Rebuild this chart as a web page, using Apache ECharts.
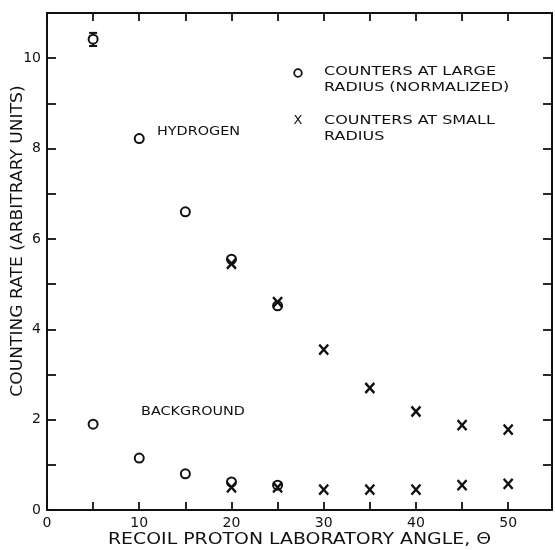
<!DOCTYPE html>
<html>
<head>
<meta charset="utf-8">
<script src="https://cdn.jsdelivr.net/npm/echarts@6/dist/echarts.min.js"></script>
<style>
  html, body { margin: 0; padding: 0; background: #fff; }
  #chart { width: 555px; height: 550px; }
</style>
</head>
<body>
<div id="chart"></div>
<script>
// angles (deg) and counting rates
const hydLargeAngle = [5, 10, 15, 20, 25];
const hydLargeRate = [10.42, 8.22, 6.6, 5.55, 4.52];
const hydSmallAngle = [20, 25, 30, 35, 40, 45, 50];
const hydSmallRate = [5.45, 4.6, 3.55, 2.7, 2.18, 1.88, 1.78];
const bgLargeAngle = [5, 10, 15, 20, 25];
const bgLargeRate = [1.9, 1.15, 0.8, 0.62, 0.55];
const bgSmallAngle = [20, 25, 30, 35, 40, 45, 50];
const bgSmallRate = [0.5, 0.5, 0.45, 0.45, 0.45, 0.55, 0.58];
// error bar on the first point
const errAngle = [5];
const errLow = [10.27];
const errHigh = [10.56];

const xTickLabels = ['0', '10', '20', '30', '40', '50'];
const yTickLabels = ['0', '2', '4', '6', '8', '10'];

const ink = '#111';
const font = 'DejaVu Sans';

function pairs(xs, ys) {
  return xs.map((x, i) => [x, ys[i]]);
}

const crossPath = 'path://M0,0L10,11M10,0L0,11';

const circleStyle = { color: '#fff', borderColor: ink, borderWidth: 2, opacity: 1 };
const crossStyle = { color: 'none', borderColor: ink, borderWidth: 2.4, opacity: 1 };

const chart = echarts.init(document.getElementById('chart'));

const baseX = {
  type: 'value', min: 0, max: 54.75, interval: 5,
  axisLine: { show: true, onZero: false, lineStyle: { color: ink, width: 2 } },
  axisTick: { show: true, inside: true, length: 8, lineStyle: { color: ink, width: 1.8 } },
  splitLine: { show: false }
};
const baseY = {
  type: 'value', min: 0, max: 11, interval: 1,
  axisLine: { show: true, onZero: false, lineStyle: { color: ink, width: 2 } },
  axisTick: { show: true, inside: true, length: 9, lineStyle: { color: ink, width: 1.8 } },
  splitLine: { show: false }
};

function keyText(text, x, y) {
  return {
    type: 'text', x: x, y: y, scaleX: 1.23,
    style: { text: text, fill: ink, font: '13px "DejaVu Sans"', textAlign: 'left', textVerticalAlign: 'middle' }
  };
}

const option = {
  animation: false,
  backgroundColor: '#fff',
  grid: { left: 47, right: 1, top: 13, bottom: 40 },
  xAxis: [
    Object.assign({}, baseX, {
      position: 'bottom',
      axisLabel: {
        color: ink, fontFamily: font, fontSize: 14, margin: 6,
        formatter: v => (xTickLabels.indexOf(String(v)) >= 0 ? String(v) : '')
      }
    }),
    Object.assign({}, baseX, { position: 'top', axisLabel: { show: false } })
  ],
  yAxis: [
    Object.assign({}, baseY, {
      position: 'left',
      axisLabel: {
        color: ink, fontFamily: font, fontSize: 14, margin: 6,
        formatter: v => (yTickLabels.indexOf(String(v)) >= 0 ? String(v) : '')
      }
    }),
    Object.assign({}, baseY, { position: 'right', axisLabel: { show: false } })
  ],
  series: [
    {
      name: 'Hydrogen, error bar',
      type: 'custom',
      data: errAngle.map((x, i) => [x, errLow[i], errHigh[i]]),
      renderItem: function (params, api) {
        const lo = api.coord([api.value(0), api.value(1)]);
        const hi = api.coord([api.value(0), api.value(2)]);
        const w = 4;
        const st = { stroke: ink, lineWidth: 2 };
        return {
          type: 'group',
          children: [
            { type: 'line', shape: { x1: lo[0], y1: lo[1], x2: hi[0], y2: hi[1] }, style: st },
            { type: 'line', shape: { x1: lo[0] - w, y1: lo[1], x2: lo[0] + w, y2: lo[1] }, style: st },
            { type: 'line', shape: { x1: hi[0] - w, y1: hi[1], x2: hi[0] + w, y2: hi[1] }, style: st }
          ]
        };
      },
      z: 1
    },
    {
      name: 'Hydrogen, counters at large radius',
      type: 'scatter', symbol: 'circle', symbolSize: 9,
      itemStyle: circleStyle, data: pairs(hydLargeAngle, hydLargeRate), z: 2
    },
    {
      name: 'Hydrogen, counters at small radius',
      type: 'scatter', symbol: crossPath, symbolSize: [9, 10],
      itemStyle: crossStyle, data: pairs(hydSmallAngle, hydSmallRate), z: 3
    },
    {
      name: 'Background, counters at large radius',
      type: 'scatter', symbol: 'circle', symbolSize: 9,
      itemStyle: circleStyle, data: pairs(bgLargeAngle, bgLargeRate), z: 2
    },
    {
      name: 'Background, counters at small radius',
      type: 'scatter', symbol: crossPath, symbolSize: [9, 10],
      itemStyle: crossStyle, data: pairs(bgSmallAngle, bgSmallRate), z: 3
    }
  ],
  graphic: [
    // axis titles
    {
      type: 'text', x: 108, y: 540, scaleX: 1.18,
      style: { text: 'RECOIL PROTON LABORATORY ANGLE, Θ', fill: ink, font: '16px "DejaVu Sans"', textAlign: 'left', textVerticalAlign: 'middle' }
    },
    {
      type: 'text', x: 18, y: 241, rotation: Math.PI / 2, scaleX: 1.14,
      style: { text: 'COUNTING RATE (ARBITRARY UNITS)', fill: ink, font: '15px "DejaVu Sans"', textAlign: 'center', textVerticalAlign: 'middle' }
    },
    // curve labels
    {
      type: 'text', x: 157, y: 132, scaleX: 1.2,
      style: { text: 'HYDROGEN', fill: ink, font: '12px "DejaVu Sans"', textAlign: 'left', textVerticalAlign: 'middle' }
    },
    {
      type: 'text', x: 141, y: 412, scaleX: 1.2,
      style: { text: 'BACKGROUND', fill: ink, font: '12px "DejaVu Sans"', textAlign: 'left', textVerticalAlign: 'middle' }
    },
    // key
    {
      type: 'circle', shape: { cx: 298, cy: 73, r: 3.8 },
      style: { fill: '#fff', stroke: ink, lineWidth: 1.8 }
    },
    keyText('COUNTERS AT LARGE', 324, 72),
    keyText('RADIUS (NORMALIZED)', 324, 88),
    {
      type: 'text', x: 298, y: 121,
      style: { text: 'X', fill: ink, font: '13px "DejaVu Sans"', textAlign: 'center', textVerticalAlign: 'middle' }
    },
    keyText('COUNTERS AT SMALL', 324, 121),
    keyText('RADIUS', 324, 137)
  ]
};

chart.setOption(option);
</script>
</body>
</html>
